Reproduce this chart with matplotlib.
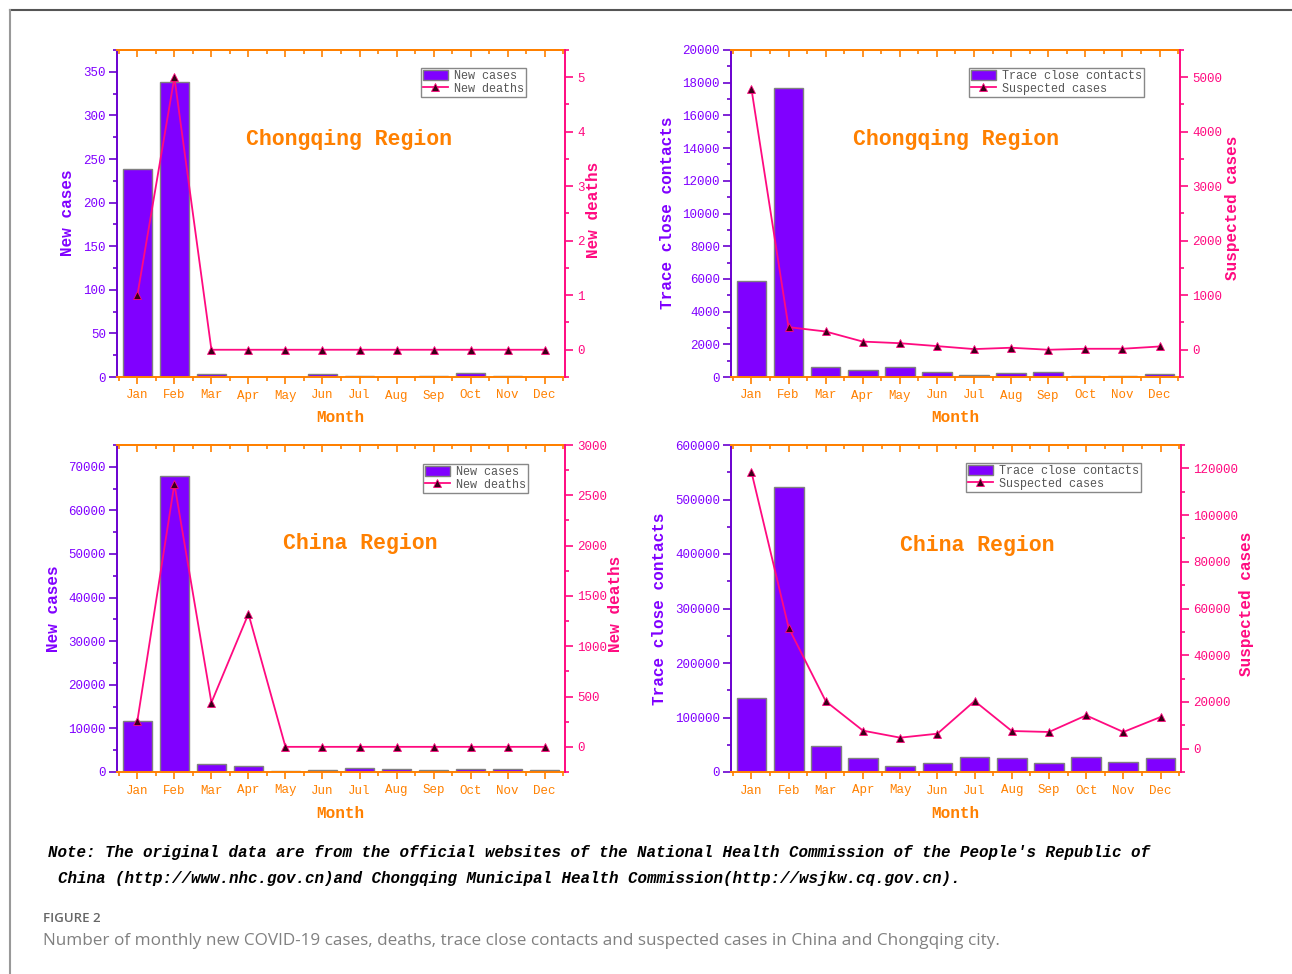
import matplotlib.pyplot as plt
import matplotlib as mpl
from matplotlib.lines import Line2D
from matplotlib.patches import Patch
from matplotlib.ticker import MultipleLocator

# chart look: Origin-like monospaced text
mpl.rc('font', family='Liberation Mono', size=9)
mpl.rc('axes', linewidth=1.4)

months = ['Jan', 'Feb', 'Mar', 'Apr', 'May', 'Jun',
          'Jul', 'Aug', 'Sep', 'Oct', 'Nov', 'Dec']

# Chongqing
cq_new_cases = [238, 338, 3, 0, 0, 3, 1, 0, 1, 5, 1, 0]
cq_new_deaths = [1, 5, 0, 0, 0, 0, 0, 0, 0, 0, 0, 0]
cq_contacts = [5870, 17660, 610, 400, 590, 320, 140, 220, 300, 60, 80, 200]
cq_suspected = [4790, 415, 335, 150, 120, 67, 12, 37, 0, 18, 18, 60]

# China
cn_new_cases = [11760, 68000, 1760, 1300, 150, 530, 840, 760, 460, 610, 610, 530]
cn_new_deaths = [258, 2614, 440, 1322, 0, 0, 0, 0, 0, 0, 0, 0]
cn_contacts = [136600, 522600, 47000, 25000, 11600, 17100, 26800, 25600,
               16500, 27400, 18300, 25000]
cn_suspected = [118450, 51750, 20240, 7700, 4700, 6400, 20380, 7550,
                7130, 14250, 7130, 13540]

VIOLET = '#8000FF'
VIOLET_DARK = '#6A00D0'
PINK = '#FF0A80'
ORANGE = '#FF8000'

W, H = 1292, 974
fig = plt.figure(figsize=(W / 100, H / 100), dpi=100)


def box(l, t, r, b):
    return [l / W, 1 - b / H, (r - l) / W, (b - t) / H]


def fpos(x, y):
    return x / W, 1 - y / H


def panel(rect, bars, line, bar_name, line_name, ylim, ystep, y2lim, y2step,
          region, region_xy, ylab_xy, y2lab_xy, month_xy, leg_xy):
    x = list(range(1, 13))
    ax = fig.add_axes(box(*rect))
    ax.bar(x, bars, width=0.8, color=VIOLET, edgecolor='#808080', linewidth=1)
    ax.set_xlim(0.45, 12.55)
    ax.set_ylim(*ylim)
    ax.set_xticks(x, months)
    ax.xaxis.set_minor_locator(MultipleLocator(0.5))
    ax.yaxis.set_major_locator(MultipleLocator(ystep))
    ax.yaxis.set_minor_locator(MultipleLocator(ystep / 2))
    ax.tick_params(axis='x', which='both', direction='out', color=ORANGE,
                   labelcolor=ORANGE, width=1.2, pad=4)
    ax.tick_params(axis='x', which='major', length=5)
    ax.tick_params(axis='x', which='minor', length=3)
    ax.tick_params(axis='y', which='both', direction='out', color=VIOLET_DARK,
                   labelcolor=VIOLET, width=1.2, pad=2)
    ax.tick_params(axis='y', which='major', length=6)
    ax.tick_params(axis='y', which='minor', length=3)
    ax.spines['left'].set_color(VIOLET_DARK)
    ax.spines['bottom'].set_color(ORANGE)
    ax.spines['top'].set_color(ORANGE)
    ax.spines['right'].set_visible(False)

    top = ax.secondary_xaxis('top')
    top.set_xticks(x)
    top.xaxis.set_minor_locator(MultipleLocator(0.5))
    top.tick_params(which='both', direction='in', color=ORANGE, width=1.2,
                    labeltop=False)
    top.tick_params(which='major', length=5)
    top.tick_params(which='minor', length=3)
    top.spines['top'].set_color(ORANGE)

    ax2 = ax.twinx()
    ax2.plot(x, line, color=PINK, lw=1.3, marker='^', ms=6,
             mfc='#3a0018', mec=PINK, mew=0.6)
    ax2.set_ylim(*y2lim)
    ax2.yaxis.set_major_locator(MultipleLocator(y2step))
    ax2.yaxis.set_minor_locator(MultipleLocator(y2step / 2))
    ax2.tick_params(axis='y', which='both', direction='out', color=PINK,
                    labelcolor=PINK, width=1.2, pad=3)
    ax2.tick_params(axis='y', which='major', length=6)
    ax2.tick_params(axis='y', which='minor', length=3)
    for side in ['left', 'top', 'bottom']:
        ax2.spines[side].set_visible(False)
    ax2.spines['right'].set_color(PINK)

    handles = [Patch(facecolor=VIOLET, edgecolor='#808080'),
               Line2D([], [], color=PINK, lw=1.3, marker='^', ms=6,
                      mfc='#3a0018', mec=PINK, mew=0.6)]
    leg = ax2.legend(handles, [bar_name, line_name], loc='upper left',
                     bbox_to_anchor=fpos(*leg_xy), bbox_transform=fig.transFigure,
                     fancybox=False, framealpha=1, edgecolor='#888888',
                     fontsize=8.5, borderpad=0.15, labelspacing=0.05,
                     handlelength=2.1, handleheight=1.0, handletextpad=0.55,
                     borderaxespad=0)
    for t in leg.get_texts():
        t.set_color('#555555')

    fig.text(*fpos(*region_xy), region, color=ORANGE, fontsize=15.5,
             fontweight='bold', ha='center', va='center')
    fig.text(*fpos(*ylab_xy), bar_name, color=VIOLET, fontsize=11.5,
             fontweight='bold', rotation=90, ha='center', va='center')
    fig.text(*fpos(*y2lab_xy), line_name, color=PINK, fontsize=11.5,
             fontweight='bold', rotation=90, ha='center', va='center')
    fig.text(*fpos(*month_xy), 'Month', color=ORANGE, fontsize=11.5,
             fontweight='bold', ha='center', va='center')


panel((117, 50, 565, 377), cq_new_cases, cq_new_deaths,
      'New cases', 'New deaths', (0, 375), 50, (-0.5, 5.5), 1,
      'Chongqing Region', (349, 140), (68, 213), (594, 210), (340, 418),
      (421, 68))
panel((731, 50, 1180, 377), cq_contacts, cq_suspected,
      'Trace close contacts', 'Suspected cases', (0, 20000), 2000,
      (-500, 5500), 1000,
      'Chongqing Region', (956, 140), (668, 213), (1232, 208), (955, 418),
      (969, 68))
panel((117, 445, 565, 772), cn_new_cases, cn_new_deaths,
      'New cases', 'New deaths', (0, 75000), 10000, (-250, 3000), 500,
      'China Region', (360, 544), (53, 609), (616, 604), (340, 813),
      (423, 464))
panel((731, 445, 1181, 772), cn_contacts, cn_suspected,
      'Trace close contacts', 'Suspected cases', (0, 600000), 100000,
      (-10000, 130000), 20000,
      'China Region', (977, 545), (660, 609), (1247, 604), (955, 813),
      (966, 463))

# outer frame around the figure body
fig.add_artist(Line2D([10 / W, 1], [1 - 10 / H, 1 - 10 / H],
                      transform=fig.transFigure, color='#555555', lw=1.5))
fig.add_artist(Line2D([10 / W, 10 / W], [0, 1 - 10 / H],
                      transform=fig.transFigure, color='#999999', lw=1.5))

note_font = dict(family='Liberation Mono', fontsize=11.4, fontweight='bold',
                 fontstyle='italic', color='black', va='center')
fig.text(*fpos(48, 852), "Note: The original data are from the official websites "
         "of the National Health Commission of the People's Republic of",
         **note_font)
fig.text(*fpos(58, 878), "China (http://www.nhc.gov.cn)and Chongqing Municipal "
         "Health Commission(http://wsjkw.cq.gov.cn).", **note_font)

fig.text(*fpos(43, 918), 'FIGURE 2', family='Open Sans', fontsize=9.5,
         fontweight='semibold', color='#666666', va='center')
fig.text(*fpos(43, 941), 'Number of monthly new COVID-19 cases, deaths, trace close '
         'contacts and suspected cases in China and Chongqing city.',
         family='Open Sans', fontsize=12.3, color='#808080', va='center')

fig.savefig('out.png', dpi=100)
